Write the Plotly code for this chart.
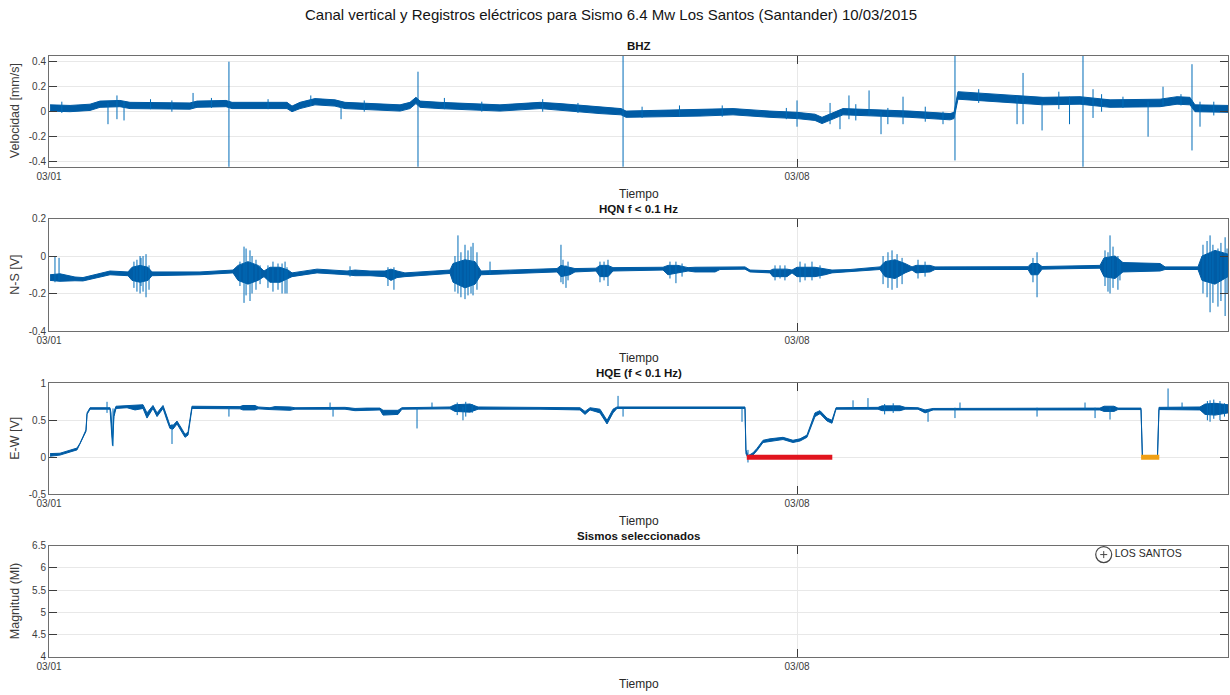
import pandas as pd
import plotly.graph_objects as go

T0 = pd.Timestamp("2015-03-01")

# ---------------- data (time in days since 2015-03-01) ----------------
# BHZ envelope
bhz_t = [0.01, 0.197, 0.384, 0.477, 0.664, 0.758, 1.319, 1.385, 1.656, 1.713, 2.227, 2.274, 2.349,
         2.489, 2.676, 2.770, 3.285, 3.378, 3.434, 3.472, 3.659, 4.220, 4.408, 4.595, 4.782, 5.156,
         5.353, 5.400, 6.092, 6.401, 6.747, 7.0, 7.168, 7.234, 7.430, 7.776, 8.057, 8.432, 8.469,
         8.506, 8.899, 9.302, 9.648, 9.929, 10.397, 10.556, 10.677, 10.724, 11.033]
bhz_lo = [0.005, 0.0, 0.01, 0.035, 0.04, 0.025, 0.02, 0.035, 0.04, 0.025, 0.025, 0.0, 0.025,
          0.055, 0.045, 0.025, 0.005, 0.025, 0.065, 0.035, 0.025, 0.005, 0.015, 0.025, 0.015, -0.015,
          -0.025, -0.045, -0.035, -0.025, -0.045, -0.055, -0.07, -0.095, -0.025, -0.035, -0.045, -0.065, -0.055,
          0.1, 0.08, 0.055, 0.06, 0.035, 0.04, 0.06, 0.055, 0.0, -0.005]
bhz_hi = [0.055, 0.05, 0.06, 0.085, 0.09, 0.075, 0.07, 0.085, 0.09, 0.075, 0.075, 0.045, 0.075,
          0.105, 0.095, 0.075, 0.055, 0.075, 0.115, 0.085, 0.075, 0.055, 0.065, 0.075, 0.065, 0.035,
          0.025, 0.005, 0.015, 0.025, 0.005, -0.005, -0.02, -0.045, 0.025, 0.015, 0.005, -0.015, -0.005,
          0.16, 0.14, 0.115, 0.12, 0.095, 0.1, 0.12, 0.115, 0.055, 0.05]
bhz_spk_t = [0.12, 0.552, 0.636, 0.702, 0.95, 1.15, 1.348, 1.52, 1.684, 2.05, 2.45, 2.733, 2.95,
             3.453, 3.7, 4.05, 4.62, 4.95, 5.372, 5.55, 5.9, 6.3, 6.9, 7.0, 7.309, 7.402, 7.486,
             7.55, 7.674, 7.786, 7.85, 7.992, 8.2, 8.366, 8.478, 8.7, 9.059, 9.115, 9.293, 9.45,
             9.55, 9.676, 9.770, 9.85, 10.05, 10.285, 10.425, 10.593, 10.696, 10.771, 10.9]
bhz_spk_lo = [-0.01, -0.1, -0.06, -0.07, 0.02, 0.0, 0.03, 0.03, -0.45, 0.02, 0.05, -0.06, 0.0,
              -0.45, 0.02, 0.0, 0.0, -0.01, -0.45, -0.05, -0.04, -0.04, -0.06, -0.12, -0.1, -0.14, -0.06,
              -0.07, -0.03, -0.18, -0.1, -0.1, -0.08, -0.1, -0.39, 0.07, -0.1, -0.1, -0.15, 0.02,
              -0.1, -0.45, -0.05, 0.0, 0.03, -0.2, 0.05, 0.05, -0.31, -0.12, -0.03]
bhz_spk_hi = [0.08, 0.07, 0.13, 0.08, 0.1, 0.09, 0.15, 0.11, 0.40, 0.1, 0.13, 0.05, 0.09,
              0.32, 0.11, 0.08, 0.1, 0.07, 0.46, 0.04, 0.05, 0.05, 0.03, 0.09, 0.07, 0.0, 0.13,
              0.06, 0.17, 0.0, 0.03, 0.12, 0.04, 0.0, 0.46, 0.18, 0.12, 0.31, 0.08, 0.16,
              0.12, 0.46, 0.18, 0.14, 0.12, 0.08, 0.2, 0.14, 0.38, 0.08, 0.08]

# HQN envelope
hqn_t = [0.01, 0.103, 0.243, 0.318, 0.571, 0.739, 0.777, 0.852, 0.926, 0.964, 1.413, 1.722, 1.769,
         1.862, 1.956, 2.012, 2.068, 2.162, 2.237, 2.274, 2.508, 2.789, 2.864, 3.004, 3.144, 3.200,
         3.257, 3.331, 3.753, 3.781, 3.893, 3.987, 4.043, 4.754, 4.791, 4.875, 4.922, 5.119, 5.156,
         5.231, 5.278, 5.746, 5.792, 5.886, 5.980, 6.045, 6.233, 6.279, 6.513, 6.560, 6.747, 6.775,
         6.906, 6.953, 7.0, 7.168, 7.262, 7.327, 7.496, 7.776, 7.823, 7.917, 8.011, 8.076, 8.113,
         8.245, 8.291, 9.162, 9.190, 9.255, 9.293, 9.835, 9.873, 9.976, 10.050, 10.397, 10.444,
         10.752, 10.790, 10.911, 11.033]
hqn_lo = [-0.13, -0.135, -0.132, -0.133, -0.1, -0.105, -0.13, -0.14, -0.13, -0.105, -0.1, -0.09, -0.13,
          -0.15, -0.13, -0.11, -0.14, -0.14, -0.12, -0.11, -0.09, -0.1, -0.105, -0.105, -0.11, -0.13,
          -0.115, -0.11, -0.093, -0.14, -0.17, -0.15, -0.1, -0.085, -0.11, -0.1, -0.085, -0.08, -0.11,
          -0.11, -0.08, -0.075, -0.1, -0.09, -0.08, -0.085, -0.085, -0.072, -0.07, -0.085, -0.09, -0.11,
          -0.11, -0.09, -0.11, -0.11, -0.1, -0.09, -0.085, -0.072, -0.11, -0.12, -0.09, -0.075, -0.09,
          -0.085, -0.072, -0.072, -0.1, -0.1, -0.07, -0.065, -0.11, -0.12, -0.085, -0.08, -0.072,
          -0.072, -0.13, -0.15, -0.11]
hqn_hi = [-0.10, -0.095, -0.112, -0.115, -0.08, -0.085, -0.06, -0.05, -0.06, -0.085, -0.085, -0.075, -0.05,
          -0.03, -0.05, -0.08, -0.06, -0.06, -0.075, -0.09, -0.07, -0.08, -0.075, -0.08, -0.08, -0.07,
          -0.08, -0.09, -0.075, -0.04, -0.02, -0.03, -0.08, -0.067, -0.05, -0.06, -0.067, -0.065, -0.05,
          -0.05, -0.062, -0.06, -0.05, -0.05, -0.062, -0.06, -0.06, -0.058, -0.058, -0.075, -0.078, -0.07,
          -0.07, -0.075, -0.06, -0.06, -0.07, -0.075, -0.072, -0.058, -0.03, -0.02, -0.04, -0.058, -0.05,
          -0.05, -0.058, -0.057, -0.04, -0.04, -0.056, -0.05, -0.01, 0.0, -0.035, -0.04, -0.058,
          -0.058, 0.0, 0.03, 0.01]
hqn_spk_t = [0.056, 0.094, 0.795, 0.823, 0.852, 0.861, 0.880, 0.908, 0.936,
             1.787, 1.825, 1.844, 1.881, 1.900, 1.937, 1.975,
             2.049, 2.096, 2.143, 2.181, 2.209, 2.227, 2.817, 3.172, 3.228,
             3.799, 3.827, 3.855, 3.893, 3.921, 3.949, 3.968, 4.005, 4.127,
             4.791, 4.810, 4.838, 4.857, 5.156, 5.194, 5.231, 5.811, 5.867, 5.924,
             6.794, 6.841, 6.887, 7.028, 7.075, 7.140, 7.215,
             7.805, 7.851, 7.889, 7.936, 7.983, 8.132, 8.198, 9.208, 9.246,
             9.882, 9.910, 9.929, 9.957, 10.003, 10.022,
             10.799, 10.837, 10.865, 10.892, 10.939, 10.967, 11.006, 11.024]
hqn_spk_lo = [-0.14, -0.13, -0.17, -0.19, -0.2, -0.16, -0.19, -0.22, -0.18,
              -0.16, -0.25, -0.21, -0.24, -0.2, -0.18, -0.15,
              -0.17, -0.19, -0.18, -0.2, -0.2, -0.2, -0.11, -0.16, -0.18,
              -0.19, -0.2, -0.22, -0.23, -0.21, -0.2, -0.21, -0.18, -0.1,
              -0.14, -0.15, -0.17, -0.13, -0.14, -0.13, -0.16, -0.12, -0.145, -0.11,
              -0.13, -0.12, -0.13, -0.14, -0.13, -0.13, -0.12,
              -0.15, -0.17, -0.18, -0.17, -0.15, -0.12, -0.11, -0.14, -0.22,
              -0.16, -0.19, -0.2, -0.17, -0.18, -0.13,
              -0.2, -0.22, -0.3, -0.25, -0.27, -0.24, -0.32, -0.2]
hqn_spk_hi = [0.0, -0.01, -0.03, -0.02, 0.0, -0.01, 0.0, 0.01, -0.05,
              -0.03, 0.05, 0.04, 0.03, 0.0, -0.02, -0.05,
              -0.05, -0.03, -0.04, -0.04, -0.03, -0.06, -0.055, -0.06, -0.06,
              0.0, 0.11, 0.02, 0.06, 0.03, 0.05, 0.07, 0.02, -0.03,
              0.06, -0.02, -0.05, -0.03, -0.03, -0.03, -0.02, -0.03, -0.03, -0.04,
              -0.05, -0.05, -0.05, -0.03, -0.04, -0.03, -0.05,
              0.0, 0.02, 0.03, 0.01, -0.01, -0.02, -0.03, -0.01, 0.02,
              0.03, 0.02, 0.11, 0.05, 0.0, -0.02,
              0.06, 0.08, 0.11, 0.06, 0.04, 0.07, 0.1, 0.04]

# HQE envelope
hqe_t = [0.01, 0.103, 0.262, 0.290, 0.318, 0.346, 0.356, 0.384, 0.571, 0.580, 0.594, 0.608, 0.627,
         0.730, 0.805, 0.880, 0.917, 0.973, 1.011, 1.067, 1.104, 1.132, 1.160, 1.198, 1.245, 1.273,
         1.301, 1.338, 1.787, 1.815, 1.928, 1.956, 2.068, 2.115, 2.255, 2.302, 2.770, 2.864, 2.976,
         3.097, 3.126, 3.266, 3.303, 3.444, 3.753, 3.799, 3.940, 4.015, 4.595, 4.969, 5.016, 5.063,
         5.156, 5.222, 5.278, 5.315, 6.513, 6.522, 6.541, 6.588, 6.625, 6.682, 6.747, 6.869, 6.962,
         7.028, 7.093, 7.168, 7.215, 7.281, 7.327, 7.365, 7.758, 7.795, 7.964, 8.011, 8.132, 8.198,
         8.273, 9.835, 9.873, 9.966, 10.003, 10.219, 10.232, 10.373, 10.387, 10.771, 10.818, 10.911,
         11.033]
hqe_lo = [0.015, 0.03, 0.1, 0.17, 0.26, 0.35, 0.58, 0.65, 0.65, 0.5, 0.16, 0.55, 0.66,
          0.67, 0.64, 0.66, 0.53, 0.66, 0.55, 0.66, 0.5, 0.39, 0.38, 0.45, 0.34, 0.27,
          0.3, 0.66, 0.655, 0.64, 0.64, 0.655, 0.645, 0.635, 0.635, 0.65, 0.65, 0.63, 0.64,
          0.64, 0.57, 0.58, 0.65, 0.655, 0.655, 0.62, 0.61, 0.65, 0.65, 0.64, 0.58, 0.64,
          0.6, 0.45, 0.6, 0.66, 0.66, 0.05, -0.01, 0.03, 0.09, 0.2, 0.22, 0.24, 0.2,
          0.22, 0.27, 0.55, 0.59, 0.49, 0.46, 0.65, 0.65, 0.63, 0.63, 0.65, 0.65, 0.6,
          0.64, 0.64, 0.62, 0.62, 0.645, 0.645, -0.01, -0.01, 0.645, 0.64, 0.58, 0.57,
          0.6]
hqe_hi = [0.05, 0.055, 0.125, 0.19, 0.28, 0.37, 0.6, 0.67, 0.67, 0.6, 0.25, 0.62, 0.69,
          0.7, 0.71, 0.71, 0.6, 0.7, 0.6, 0.7, 0.55, 0.43, 0.43, 0.49, 0.38, 0.31,
          0.34, 0.69, 0.685, 0.7, 0.7, 0.68, 0.67, 0.685, 0.68, 0.67, 0.675, 0.66, 0.665,
          0.665, 0.635, 0.635, 0.67, 0.675, 0.68, 0.71, 0.72, 0.68, 0.68, 0.67, 0.62, 0.67,
          0.65, 0.5, 0.65, 0.68, 0.68, 0.1, 0.02, 0.06, 0.12, 0.23, 0.25, 0.27, 0.23,
          0.25, 0.3, 0.6, 0.63, 0.53, 0.5, 0.67, 0.675, 0.695, 0.695, 0.675, 0.67, 0.64,
          0.66, 0.665, 0.69, 0.69, 0.665, 0.665, 0.02, 0.02, 0.675, 0.68, 0.72, 0.73,
          0.71]
hqe_spk_t = [0.543, 0.599, 1.151, 1.684, 2.630, 2.658, 3.444, 3.584, 3.82, 3.874, 3.9, 3.96,
             5.325, 5.372, 6.485, 6.541, 7.524, 7.664, 7.82, 7.9, 8.226, 8.478, 8.525, 9.246,
             9.695, 9.789, 9.929, 10.472, 10.603, 10.84, 10.865, 10.9, 10.958, 11.0]
hqe_spk_lo = [0.6, 0.15, 0.18, 0.55, 0.64, 0.55, 0.39, 0.66, 0.57, 0.5, 0.55, 0.6,
              0.66, 0.55, 0.48, -0.07, 0.65, 0.65, 0.58, 0.6, 0.48, 0.53, 0.65, 0.55,
              0.65, 0.53, 0.51, 0.65, 0.65, 0.5, 0.48, 0.52, 0.5, 0.55]
hqe_spk_hi = [0.75, 0.66, 0.45, 0.68, 0.74, 0.67, 0.67, 0.74, 0.74, 0.68, 0.75, 0.72,
              0.83, 0.67, 0.67, 0.1, 0.77, 0.8, 0.72, 0.73, 0.65, 0.67, 0.74, 0.67,
              0.74, 0.67, 0.67, 0.93, 0.74, 0.76, 0.77, 0.78, 0.76, 0.73]

# Highlight intervals on E-W panel (start, end in days, level)
red_span = [6.53, 7.33]
orange_span = [10.22, 10.39]
span_level = 0.0

# Selected earthquakes
eq_days = [9.87]
eq_mag = [6.3]
eq_names = ["LOS SANTOS"]

# Axes
x_tick_days = [0, 7]
x_tick_text = ["03/01", "03/08"]
x_end_days = 11.033
y1_ticks = [-0.4, -0.2, 0, 0.2, 0.4]
y1_text = ["-0.4", "-0.2", "0", "0.2", "0.4"]
y2_ticks = [-0.4, -0.2, 0, 0.2]
y2_text = ["-0.4", "-0.2", "0", "0.2"]
y3_ticks = [-0.5, 0, 0.5, 1]
y3_text = ["-0.5", "0", "0.5", "1"]
y4_ticks = [4, 4.5, 5, 5.5, 6, 6.5]
y4_text = ["4", "4.5", "5", "5.5", "6", "6.5"]

panel_titles = ["BHZ", "HQN f < 0.1 Hz", "HQE (f < 0.1 Hz)", "Sismos seleccionados"]
y_titles = ["Velocidad [mm/s]", "N-S [V]", "E-W [V]", "Magnitud (Ml)"]
main_title = "Canal vertical y Registros eléctricos para Sismo 6.4 Mw Los Santos (Santander) 10/03/2015"


def to_dt(days):
    return [T0 + pd.to_timedelta(d, unit="D") for d in days]


BAND = "rgb(0,92,165)"
SPIKE = "rgb(0,108,184)"
FONT = "Liberation Sans"

fig = go.Figure()


def add_signal(t, lo, hi, st, slo, shi, xa, ya):
    tt = to_dt(t)
    fig.add_trace(go.Scatter(x=tt + tt[::-1], y=hi + lo[::-1], fill="toself", mode="lines",
                             line=dict(color=BAND, width=1), fillcolor=BAND,
                             xaxis=xa, yaxis=ya, hoverinfo="skip", showlegend=False))
    sx, sy = [], []
    for d, a, b in zip(to_dt(st), slo, shi):
        sx += [d, d, None]
        sy += [a, b, None]
    fig.add_trace(go.Scatter(x=sx, y=sy, mode="lines", line=dict(color=SPIKE, width=1),
                             xaxis=xa, yaxis=ya, hoverinfo="skip", showlegend=False))


add_signal(bhz_t, bhz_lo, bhz_hi, bhz_spk_t, bhz_spk_lo, bhz_spk_hi, "x", "y")
add_signal(hqn_t, hqn_lo, hqn_hi, hqn_spk_t, hqn_spk_lo, hqn_spk_hi, "x2", "y2")
add_signal(hqe_t, hqe_lo, hqe_hi, hqe_spk_t, hqe_spk_lo, hqe_spk_hi, "x3", "y3")

fig.add_trace(go.Scatter(x=to_dt(red_span), y=[span_level] * 2, mode="lines",
                         line=dict(color="rgb(225,20,30)", width=5), xaxis="x3", yaxis="y3",
                         showlegend=False))
fig.add_trace(go.Scatter(x=to_dt(orange_span), y=[span_level] * 2, mode="lines",
                         line=dict(color="rgb(240,160,20)", width=5), xaxis="x3", yaxis="y3",
                         showlegend=False))

fig.add_trace(go.Scatter(x=to_dt(eq_days), y=eq_mag, mode="markers+text", text=eq_names,
                         textposition="middle right",
                         textfont=dict(family=FONT, size=10.5, color="rgb(40,40,40)"),
                         marker=dict(symbol="circle-open", size=16, color="rgb(70,70,70)",
                                     line=dict(width=1.2)),
                         xaxis="x4", yaxis="y4", showlegend=False))
fig.add_trace(go.Scatter(x=to_dt(eq_days), y=eq_mag, mode="markers",
                         marker=dict(symbol="cross-thin-open", size=5, color="rgb(70,70,70)",
                                     line=dict(width=1)),
                         xaxis="x4", yaxis="y4", showlegend=False))

W, H = 1230, 695
X0, X1 = 49, 1228
panels_px = [(55.7, 166.7), (218.5, 331.0), (383.3, 494.3), (545.7, 656.7)]
yranges = [[-0.44, 0.448], [-0.4, 0.2], [-0.5, 1.0], [4, 6.5]]
yticks = [(y1_ticks, y1_text), (y2_ticks, y2_text), (y3_ticks, y3_text), (y4_ticks, y4_text)]

AXC = "rgb(110,110,110)"
GRID = "rgb(232,232,232)"
TICKF = dict(family=FONT, size=10, color="rgb(60,60,60)")

layout = dict(width=W, height=H, margin=dict(l=0, r=0, t=0, b=0, pad=0), autosize=False,
              paper_bgcolor="white", plot_bgcolor="white", showlegend=False,
              font=dict(family=FONT))
annotations = [dict(text=main_title, x=0.497, y=1 - 15 / H, xref="paper", yref="paper",
                    xanchor="center", yanchor="middle",
                    showarrow=False, font=dict(family=FONT, size=15, color="rgb(20,20,20)"))]
xc = (X0 + X1) / 2 / W
for i, (top, bot) in enumerate(panels_px):
    n = "" if i == 0 else str(i + 1)
    layout["xaxis" + n] = dict(
        domain=[X0 / W, X1 / W], anchor="y" + n, type="date", automargin=False,
        range=[T0, T0 + pd.to_timedelta(x_end_days, unit="D")],
        tickvals=to_dt(x_tick_days), ticktext=x_tick_text,
        showline=True, linecolor=AXC, linewidth=1, mirror="ticks",
        ticks="inside", ticklen=8, tickcolor="rgb(60,60,60)",
        showgrid=True, gridcolor=GRID, zeroline=False, tickfont=TICKF)
    layout["yaxis" + n] = dict(
        domain=[1 - bot / H, 1 - top / H], anchor="x" + n, range=yranges[i], automargin=False,
        tickvals=yticks[i][0], ticktext=yticks[i][1],
        showline=True, linecolor=AXC, linewidth=1, mirror="ticks",
        ticks="inside", ticklen=8, tickcolor="rgb(60,60,60)",
        showgrid=True, gridcolor=GRID, zeroline=False, tickfont=TICKF)
    annotations.append(dict(text="<b>" + panel_titles[i] + "</b>", x=xc, y=1 - (top - 10) / H,
                            xref="paper", yref="paper", showarrow=False,
                            xanchor="center", yanchor="middle",
                            font=dict(family=FONT, size=11.5, color="rgb(20,20,20)")))
    annotations.append(dict(text="Tiempo", x=xc, y=1 - (bot + 27) / H, xref="paper", yref="paper",
                            xanchor="center", yanchor="middle",
                            showarrow=False, font=dict(family=FONT, size=12, color="rgb(40,40,40)")))
    annotations.append(dict(text=y_titles[i], x=15 / W, y=1 - (top + bot) / 2 / H, xref="paper",
                            yref="paper", showarrow=False, textangle=-90,
                            xanchor="center", yanchor="middle",
                            font=dict(family=FONT, size=12.5, color="rgb(60,60,60)")))
layout["annotations"] = annotations
fig.update_layout(**layout)
fig.write_html("out.html")
